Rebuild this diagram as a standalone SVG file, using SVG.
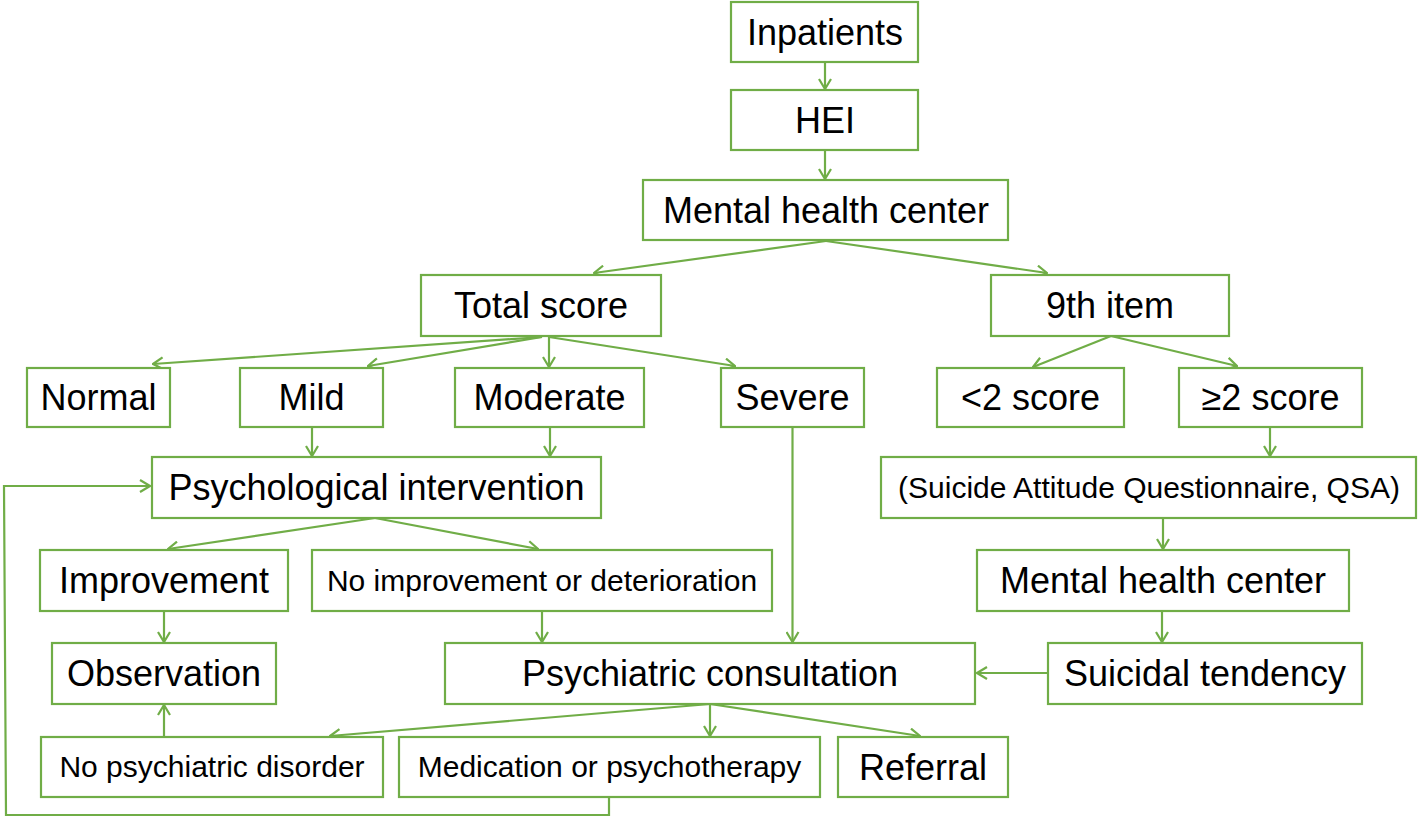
<svg xmlns="http://www.w3.org/2000/svg" width="1418" height="818" viewBox="0 0 1418 818">
<style>
.box{fill:#fff;stroke:#70AD47;stroke-width:2.2}
.t{font-family:"Liberation Sans",Arial,sans-serif;font-size:36px;fill:#000;text-anchor:middle}
.s{font-size:30px}
.c{fill:none;stroke:#70AD47;stroke-width:2.2}
</style>
<defs>
<marker id="ah" viewBox="0 0 12 14" markerWidth="12" markerHeight="14" refX="11" refY="7" orient="auto" markerUnits="userSpaceOnUse">
<path d="M1,1 L11,7 L1,13" fill="none" stroke="#70AD47" stroke-width="2.2"/>
</marker>
</defs>
<rect width="1418" height="818" fill="#fff"/>
<g id="connectors" class="conn">
<line class="c" x1="825" y1="62" x2="825" y2="89" marker-end="url(#ah)"/>
<line class="c" x1="825" y1="150" x2="825" y2="179" marker-end="url(#ah)"/>
<line class="c" x1="826" y1="241" x2="594" y2="273" marker-end="url(#ah)"/>
<line class="c" x1="826" y1="241" x2="1047" y2="273" marker-end="url(#ah)"/>
<line class="c" x1="542" y1="337" x2="153" y2="364" marker-end="url(#ah)"/>
<line class="c" x1="542" y1="337" x2="368" y2="366" marker-end="url(#ah)"/>
<line class="c" x1="549" y1="337" x2="549" y2="367" marker-end="url(#ah)"/>
<line class="c" x1="549" y1="337" x2="735" y2="366" marker-end="url(#ah)"/>
<line class="c" x1="1111" y1="336" x2="1033" y2="367" marker-end="url(#ah)"/>
<line class="c" x1="1111" y1="336" x2="1237" y2="366" marker-end="url(#ah)"/>
<line class="c" x1="312" y1="427" x2="312" y2="456" marker-end="url(#ah)"/>
<line class="c" x1="550" y1="427" x2="550" y2="456" marker-end="url(#ah)"/>
<line class="c" x1="1270" y1="427" x2="1270" y2="456" marker-end="url(#ah)"/>
<line class="c" x1="375" y1="518" x2="168" y2="549" marker-end="url(#ah)"/>
<line class="c" x1="375" y1="518" x2="538" y2="549" marker-end="url(#ah)"/>
<line class="c" x1="1163" y1="518" x2="1163" y2="549" marker-end="url(#ah)"/>
<line class="c" x1="164" y1="611" x2="164" y2="642" marker-end="url(#ah)"/>
<line class="c" x1="542" y1="611" x2="542" y2="642" marker-end="url(#ah)"/>
<line class="c" x1="792.5" y1="428" x2="792.5" y2="642" marker-end="url(#ah)"/>
<line class="c" x1="1162" y1="611" x2="1162" y2="642" marker-end="url(#ah)"/>
<line class="c" x1="1048" y1="673" x2="977" y2="673" marker-end="url(#ah)"/>
<line class="c" x1="710" y1="704" x2="330" y2="736" marker-end="url(#ah)"/>
<line class="c" x1="710" y1="704" x2="710" y2="736" marker-end="url(#ah)"/>
<line class="c" x1="710" y1="704" x2="920" y2="736" marker-end="url(#ah)"/>
<line class="c" x1="164" y1="737" x2="164" y2="705" marker-end="url(#ah)"/>
<polyline class="c" points="609,797 609,815 6,815 4,486 150,486" marker-end="url(#ah)"/>
</g>
<g id="n-inpatients"><rect class="box" x="731" y="2" width="187" height="60"/><text class="t" x="825" y="45">Inpatients</text></g>
<g id="n-hei"><rect class="box" x="731" y="90" width="187" height="60"/><text class="t" x="825" y="133">HEI</text></g>
<g id="n-mhc1"><rect class="box" x="643" y="180" width="365" height="60"/><text class="t" x="826" y="223">Mental health center</text></g>
<g id="n-total"><rect class="box" x="421" y="275" width="240" height="61"/><text class="t" x="541" y="318">Total score</text></g>
<g id="n-ninth"><rect class="box" x="991" y="275" width="238" height="61"/><text class="t" x="1110" y="318">9th item</text></g>
<g id="n-normal"><rect class="box" x="27" y="368" width="143" height="59"/><text class="t" x="98.5" y="410">Normal</text></g>
<g id="n-mild"><rect class="box" x="240" y="368" width="143" height="59"/><text class="t" x="311.5" y="410">Mild</text></g>
<g id="n-moderate"><rect class="box" x="455" y="368" width="189" height="59"/><text class="t" x="549.5" y="410">Moderate</text></g>
<g id="n-severe"><rect class="box" x="721" y="368" width="143" height="59"/><text class="t" x="792.5" y="410">Severe</text></g>
<g id="n-lt2"><rect class="box" x="937" y="368" width="187" height="59"/><text class="t" x="1030.5" y="410">&lt;2 score</text></g>
<g id="n-ge2"><rect class="box" x="1179" y="368" width="183" height="59"/><text class="t" x="1270.5" y="410">≥2 score</text></g>
<g id="n-psychint"><rect class="box" x="152" y="457" width="449" height="61"/><text class="t" x="376.5" y="500">Psychological intervention</text></g>
<g id="n-qsa"><rect class="box" x="881" y="457" width="535" height="61"/><text class="t s" x="1149" y="498">(Suicide Attitude Questionnaire, QSA)</text></g>
<g id="n-improve"><rect class="box" x="40" y="550" width="248" height="61"/><text class="t" x="164" y="593">Improvement</text></g>
<g id="n-noimprove"><rect class="box" x="312" y="550" width="460" height="61"/><text class="t s" x="542" y="591">No improvement or deterioration</text></g>
<g id="n-mhc2"><rect class="box" x="977" y="550" width="372" height="61"/><text class="t" x="1163" y="593">Mental health center</text></g>
<g id="n-observ"><rect class="box" x="52" y="643" width="224" height="61"/><text class="t" x="164" y="686">Observation</text></g>
<g id="n-psychcons"><rect class="box" x="445" y="643" width="530" height="61"/><text class="t" x="710" y="686">Psychiatric consultation</text></g>
<g id="n-suicidal"><rect class="box" x="1048" y="643" width="314" height="61"/><text class="t" x="1205" y="686">Suicidal tendency</text></g>
<g id="n-nodisorder"><rect class="box" x="41" y="737" width="342" height="60"/><text class="t s" x="212" y="777">No psychiatric disorder</text></g>
<g id="n-medication"><rect class="box" x="399" y="737" width="421" height="60"/><text class="t s" x="609.5" y="777">Medication or psychotherapy</text></g>
<g id="n-referral"><rect class="box" x="838" y="737" width="170" height="60"/><text class="t" x="923" y="780">Referral</text></g>
</svg>
